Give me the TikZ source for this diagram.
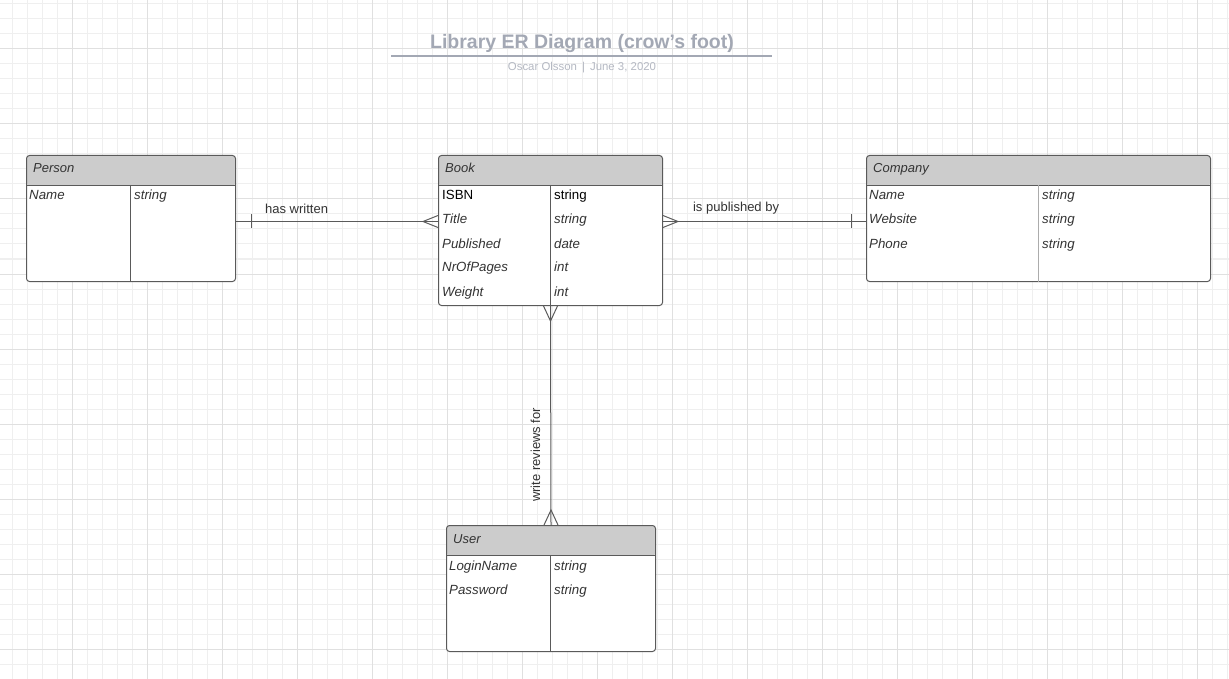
\documentclass[tikz,border=0pt]{standalone}
\usepackage{fontspec}
\setmainfont{Liberation Sans}
\usepackage{xcolor}
\usetikzlibrary{positioning,calc}

\definecolor{gridminor}{HTML}{EFEFEF}
\definecolor{gridmajor}{HTML}{E0E0E0}
\definecolor{linegray}{HTML}{5A5A5A}
\definecolor{headgray}{HTML}{CCCCCC}
\definecolor{textgray}{HTML}{333333}
\definecolor{titlegray}{HTML}{A3A8B4}

\begin{document}
\begin{tikzpicture}[
    x=1pt, y=-1pt,
    entity/.style={rectangle, draw=linegray, fill=white, line width=1pt, rounded corners=3pt,
        anchor=north west, inner sep=0pt,
        path picture={\fill[headgray] (path picture bounding box.north west) rectangle ([yshift=-30pt]path picture bounding box.north east);
            \draw[linegray, line width=1pt] ([yshift=-30pt]path picture bounding box.north west) -- ([yshift=-30pt]path picture bounding box.north east);}},
    headtext/.style={anchor=base west, inner sep=0pt, font=\fontsize{13}{15}\selectfont\itshape, text=textgray},
    attr/.style={anchor=base west, inner sep=0pt, font=\fontsize{13.3}{15}\selectfont\itshape, text=textgray},
    keyattr/.style={anchor=base west, inner sep=0pt, font=\fontsize{13.3}{15}\selectfont, text=black},
    divider/.style={draw=linegray, line width=1pt},
    rel/.style={draw=linegray, line width=1pt},
    reltext/.style={inner sep=0pt, font=\fontsize{13}{15}\selectfont, text=textgray}
]
    % background grid
    \useasboundingbox (0,0) rectangle (1229,679);
    \fill[white] (0,0) rectangle (1229,679);
    \foreach \i in {0,...,81} \draw[gridminor, line width=1pt] ({12+15*\i},0) -- ({12+15*\i},679);
    \foreach \i in {0,...,45} \draw[gridminor, line width=1pt] (0,{4+15*\i}) -- (1229,{4+15*\i});
    \foreach \i in {0,...,15} \draw[gridmajor, line width=1pt] ({72+75*\i},0) -- ({72+75*\i},679);
    \foreach \i in {0,...,8} \draw[gridmajor, line width=1pt] (0,{49+75*\i}) -- (1229,{49+75*\i});

    % title
    \node[font=\fontsize{19.5}{22}\selectfont\bfseries, text=titlegray] (title) at (582,44) {Library ER Diagram (crow's foot)};
    \draw[titlegray, line width=1.5pt] (391,56) -- (772,56);
    \node[font=\fontsize{11.4}{13}\selectfont, text=titlegray!80] (byline) at (582,68) {Oscar Olsson \,|\, June 3, 2020};

    % entities
    \node[entity, minimum width=209pt, minimum height=126pt] (person) at (26,155) {};
    \node[entity, minimum width=224pt, minimum height=150pt] (book) at (438,155) {};
    \node[entity, minimum width=344pt, minimum height=126pt] (company) at (866,155) {};
    \node[entity, minimum width=209pt, minimum height=126pt] (user) at (446,525) {};

    \draw[divider] ($(person.north west)+(104,30)$) -- ($(person.south west)+(104,0)$);
    \draw[divider] ($(book.north west)+(112,30)$) -- ($(book.south west)+(112,0)$);
    \draw[divider, draw=gray!65] ($(company.north west)+(172,30)$) -- ($(company.south west)+(172,0)$);
    \draw[divider] ($(user.north west)+(104,30)$) -- ($(user.south west)+(104,0)$);

    \node[headtext] (person-name) at ($(person.north west)+(7,18)$) {Person};
    \node[headtext] (book-name) at ($(book.north west)+(7,18)$) {Book};
    \node[headtext] (company-name) at ($(company.north west)+(7,18)$) {Company};
    \node[headtext] (user-name) at ($(user.north west)+(7,18)$) {User};

    % attributes
    \node[attr] (person-a1) at ($(person.north west)+(3,45)$) {Name};
    \node[attr] (person-t1) at ($(person.north west)+(108,45)$) {string};

    \node[keyattr] (book-a0) at ($(book.north west)+(4,45)$) {ISBN};
    \node[keyattr] (book-t0) at ($(book.north west)+(116,45)$) {string};
    \foreach \a/\t [count=\i] in {Title/string, Published/date, NrOfPages/int, Weight/int}{
        \node[attr] (book-a\i) at ($(book.north west)+(4,45+24*\i)$) {\a};
        \node[attr] (book-t\i) at ($(book.north west)+(116,45+24*\i)$) {\t};
    }

    \foreach \a/\t [count=\i from 0] in {Name/string, Website/string, Phone/string}{
        \node[attr] (company-a\i) at ($(company.north west)+(3,45+24*\i)$) {\a};
        \node[attr] (company-t\i) at ($(company.north west)+(176,45+24*\i)$) {\t};
    }

    \foreach \a/\t [count=\i from 0] in {LoginName/string, Password/string}{
        \node[attr] (user-a\i) at ($(user.north west)+(3,45+24*\i)$) {\a};
        \node[attr] (user-t\i) at ($(user.north west)+(108,45+24*\i)$) {\t};
    }

    % relationships
    \coordinate (hw-end) at ($(book.west)+(0,-9)$);
    \draw[rel] ($(person.east)+(0,3)$) -- (hw-end) node[reltext, pos=0.3, yshift=13pt] {has written};
    \draw[rel] ($(person.east)+(15,-4)$) -- ($(person.east)+(15,10)$);
    \draw[rel] ($(hw-end)+(0,-6)$) -- ($(hw-end)+(-15,0)$) -- ($(hw-end)+(0,6)$);

    \coordinate (pb-end) at ($(book.east)+(0,-9)$);
    \draw[rel] (pb-end) -- ($(company.west)+(0,3)$) node[reltext, pos=0.36, yshift=13pt] {is published by};
    \draw[rel] ($(company.west)+(-15,-4)$) -- ($(company.west)+(-15,10)$);
    \draw[rel] ($(pb-end)+(0,-6)$) -- ($(pb-end)+(15,0)$) -- ($(pb-end)+(0,6)$);

    \draw[rel] (book.south) -- (user.north) node[reltext, pos=0.68, rotate=90, anchor=south, inner sep=10pt] {write reviews for};
    \draw[rel] ($(book.south)+(-7,0)$) -- ($(book.south)+(0,15)$) -- ($(book.south)+(7,0)$);
    \draw[rel] ($(user.north)+(-7,0)$) -- ($(user.north)+(0,-15)$) -- ($(user.north)+(7,0)$);
\end{tikzpicture}
\end{document}
